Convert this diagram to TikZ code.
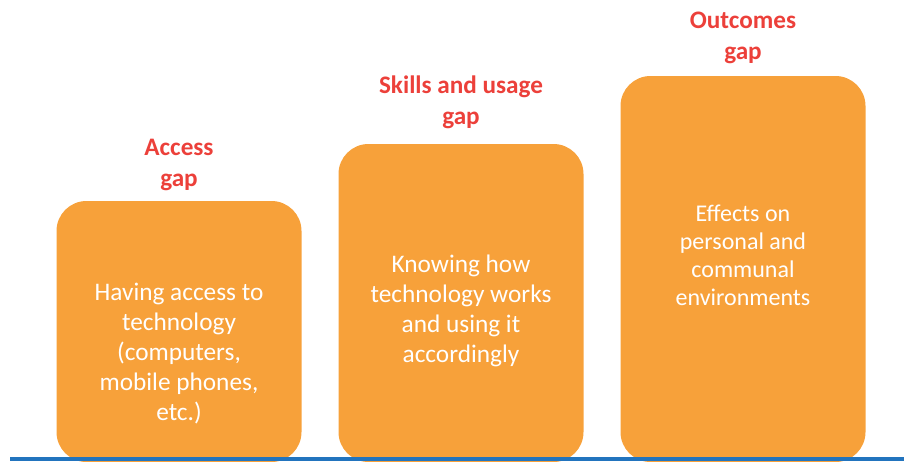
\documentclass[tikz,border=0pt]{standalone}
\usepackage{fontspec}
\setmainfont{Carlito}
\usepackage{xcolor}
\usepackage{tikz}

\definecolor{gaporange}{RGB}{247,161,58}
\definecolor{gapred}{RGB}{236,64,58}
\definecolor{gapblue}{RGB}{34,116,190}

\tikzset{
  gapbox/.style={fill=gaporange, rounded corners=30pt, minimum width=245pt, inner sep=0pt},
  gaptitle/.style={text=gapred, font=\bfseries\fontsize{25.2}{31}\selectfont, align=center},
  gaptext/.style={text=white, font=\fontsize{25.3}{30}\selectfont, align=center}
}

\begin{document}
\begin{tikzpicture}[x=1pt, y=-1pt]
      \useasboundingbox (0,0) rectangle (904,461);

      \node[gapbox, minimum height=261pt] (access) at (179,331.5) {};
      \node[gapbox, minimum height=318pt] (skills) at (461,303) {};
      \node[gapbox, minimum height=386pt] (outcomes) at (743,269) {};

      \node[gaptitle] (accesstitle) at (179,164.5) {Access\\gap};
      \node[gaptitle] (skillstitle) at (461,102) {Skills and usage\\gap};
      \node[gaptitle] (outcomestitle) at (743,37.5) {Outcomes\\gap};

      \node[gaptext] (accesstext) at (179,353.5) {Having access to\\technology\\(computers,\\mobile phones,\\etc.)};
      \node[gaptext] (skillstext) at (461,311) {Knowing how\\technology works\\and using it\\accordingly};
      \node[gaptext, font=\fontsize{24}{28}\selectfont] (outcomestext) at (743,255.5) {Effects on\\personal and\\communal\\environments};

      % ground line under the boxes
      \coordinate (groundl) at (10,458.75);
      \coordinate (groundr) at (904,458.75);
      \draw[gapblue, line width=4.5pt] (groundl) -- (groundr);
    \end{tikzpicture}
\end{document}
